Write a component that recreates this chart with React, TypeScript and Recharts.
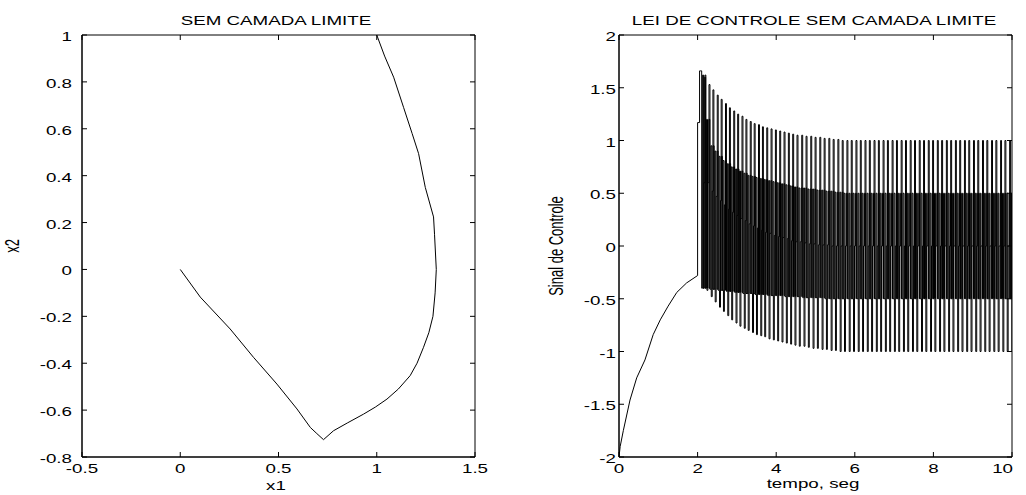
import React from 'react';
import { LineChart, Line, XAxis, YAxis, ReferenceArea } from 'recharts';

// ---------- Left panel: phase plane (x1, x2) ----------
const phaseX1 = [1.0, 1.04, 1.086, 1.137, 1.18, 1.213, 1.247, 1.289, 1.294, 1.303, 1.297, 1.286, 1.265, 1.238, 1.205, 1.17, 1.11, 1.052, 0.993, 0.933, 0.85, 0.78, 0.729, 0.695, 0.662, 0.594, 0.492, 0.373, 0.254, 0.102, 0.0];
const phaseX2 = [1.0, 0.91, 0.82, 0.69, 0.58, 0.494, 0.35, 0.224, 0.15, 0.0, -0.1, -0.2, -0.27, -0.332, -0.4, -0.453, -0.51, -0.553, -0.587, -0.617, -0.655, -0.688, -0.726, -0.7, -0.674, -0.595, -0.489, -0.375, -0.254, -0.118, 0.0];
const phaseXTicks = [-0.5, 0, 0.5, 1, 1.5];
const phaseYTicks = [-0.8, -0.6, -0.4, -0.2, 0, 0.2, 0.4, 0.6, 0.8, 1];

// ---------- Right panel: control signal ----------
const approachTime = [0, 0.03, 0.11, 0.28, 0.45, 0.66, 0.87, 1.05, 1.25, 1.47, 1.72, 2.0, 2.0, 2.05, 2.05];
const approachSignal = [-2.0, -1.9, -1.75, -1.46, -1.25, -1.08, -0.84, -0.7, -0.57, -0.44, -0.35, -0.28, 1.17, 1.17, 1.66];

const transientPulseTime = [2.08, 2.18, 2.29, 2.39, 2.5, 2.6, 2.71, 2.81, 2.92, 3.02, 3.13, 3.23, 3.34, 3.44, 3.55, 3.65, 3.76, 3.87, 3.98, 4.09, 4.2, 4.31, 4.42, 4.53, 4.65, 4.76, 4.88, 4.99, 5.11, 5.22, 5.34, 5.45, 5.57];
const transientUpper = [1.66, 1.6, 1.53, 1.48, 1.43, 1.39, 1.35, 1.31, 1.28, 1.25, 1.23, 1.2, 1.18, 1.16, 1.15, 1.13, 1.12, 1.11, 1.1, 1.09, 1.08, 1.07, 1.06, 1.05, 1.05, 1.04, 1.04, 1.03, 1.03, 1.02, 1.02, 1.01, 1.01];
const transientMidUpper = [1.62, 1.2, 0.95, 0.9, 0.85, 0.81, 0.78, 0.75, 0.73, 0.71, 0.69, 0.67, 0.66, 0.65, 0.64, 0.63, 0.62, 0.61, 0.6, 0.59, 0.58, 0.57, 0.56, 0.55, 0.55, 0.54, 0.54, 0.53, 0.53, 0.52, 0.52, 0.51, 0.51];
const transientMid = [0.6, 0.6, 0.52, 0.47, 0.43, 0.39, 0.35, 0.32, 0.29, 0.26, 0.24, 0.21, 0.19, 0.17, 0.15, 0.13, 0.12, 0.1, 0.09, 0.08, 0.07, 0.05, 0.04, 0.04, 0.03, 0.02, 0.02, 0.01, 0.01, 0.01, 0.0, 0.0, 0.0];
const transientMidLower = [-0.4, -0.4, -0.41, -0.41, -0.42, -0.42, -0.43, -0.43, -0.44, -0.44, -0.45, -0.45, -0.45, -0.46, -0.46, -0.46, -0.47, -0.47, -0.47, -0.47, -0.48, -0.48, -0.48, -0.48, -0.49, -0.49, -0.49, -0.49, -0.49, -0.5, -0.5, -0.5, -0.5];
const transientLower = [-0.4, -0.42, -0.48, -0.53, -0.58, -0.62, -0.66, -0.7, -0.73, -0.76, -0.78, -0.8, -0.82, -0.84, -0.85, -0.86, -0.88, -0.89, -0.9, -0.91, -0.92, -0.93, -0.94, -0.95, -0.95, -0.96, -0.97, -0.97, -0.98, -0.98, -0.99, -0.99, -1.0];

const steadyPulseTime = [5.68, 5.8, 5.91, 6.03, 6.14, 6.26, 6.37, 6.49, 6.6, 6.72, 6.83, 6.95, 7.06, 7.18, 7.29, 7.41, 7.52, 7.64, 7.75, 7.87, 7.98, 8.1, 8.21, 8.33, 8.44, 8.56, 8.67, 8.79, 8.9, 9.02, 9.13, 9.25, 9.36, 9.48, 9.59, 9.71, 9.82, 9.94];
const steadyLevels = [1, 0.5, 0, -0.5, -1]; // upper, mid-upper, middle, mid-lower, lower

const switchStep = 0.024; // time between consecutive switches inside a burst
const halfCycle = 0.058; // time from the upper burst to the lower burst

const timeTicks = [0, 2, 4, 6, 8, 10];
const signalTicks = [-2, -1.5, -1, -0.5, 0, 0.5, 1, 1.5, 2];

// ---------- build data ----------
const phaseData = phaseX1.map((x1, i) => ({ x1, x2: phaseX2[i] }));

type Pt = { t: number; v: number };
const signalData: Pt[] = approachTime.map((t, i) => ({ t, v: approachSignal[i] }));
let prevLevel = approachSignal[approachSignal.length - 1];
const pushLevel = (t: number, v: number) => {
  signalData.push({ t, v: prevLevel }, { t, v });
  prevLevel = v;
};
const addCycle = (t: number, u: number, mu: number, m: number, ml: number, l: number) => {
  const d = switchStep;
  pushLevel(t, u);
  pushLevel(t + d, ml);
  pushLevel(t + 2 * d, mu);
  pushLevel(t + 3 * d, ml);
  const h = t + halfCycle;
  pushLevel(h, l);
  pushLevel(h + d, m);
  pushLevel(h + 2 * d, mu);
  pushLevel(h + 3 * d, ml);
};
transientPulseTime.forEach((t, i) =>
  addCycle(t, transientUpper[i], transientMidUpper[i], transientMid[i], transientMidLower[i], transientLower[i])
);
steadyPulseTime.forEach((t) =>
  addCycle(t, steadyLevels[0], steadyLevels[1], steadyLevels[2], steadyLevels[3], steadyLevels[4])
);
signalData.push({ t: 10, v: prevLevel });

// ---------- styling helpers ----------
const FONT = "'Liberation Sans', Arial, Helvetica, sans-serif";
const FS = 12.5;
const SX = 1.5;
const TICK = 5;
const TOP = 35;
const BOTTOM = 457;
const H = 495;

const fmt = (v: number) => String(Math.round(v * 100) / 100);

function StretchText({ x, y, anchor, rotate, size, children }: any) {
  const tr = `translate(${x},${y}) scale(${SX},1)` + (rotate ? ' rotate(-90)' : '');
  return (
    <text transform={tr} textAnchor={anchor} fontFamily={FONT} fontSize={size || FS} fill="#000">
      {children}
    </text>
  );
}

const makeXTick = (endValue: number | null) => (props: any) => {
  const { x, payload } = props;
  const v = payload.value;
  const isEnd = endValue !== null && v === endValue;
  return (
    <g>
      <line x1={x} x2={x} y1={BOTTOM} y2={BOTTOM - TICK} stroke="#000" />
      <line x1={x} x2={x} y1={TOP} y2={TOP + TICK} stroke="#000" />
      <StretchText x={isEnd ? x + 1 : x} y={BOTTOM + 16} anchor={isEnd ? 'end' : 'middle'}>
        {fmt(v)}
      </StretchText>
    </g>
  );
};

const makeYTick = (left: number, right: number, labelX: number) => (props: any) => {
  const { y, payload } = props;
  return (
    <g>
      <line x1={left} x2={left + TICK} y1={y} y2={y} stroke="#000" />
      <line x1={right} x2={right - TICK} y1={y} y2={y} stroke="#000" />
      <StretchText x={labelX} y={y + 6} anchor="end">
        {fmt(payload.value)}
      </StretchText>
    </g>
  );
};

// Left chart geometry (svg at page x=0)
const L_W = 510;
const L_LEFT = 82;
const L_RIGHT = 475;
// Right chart geometry (svg at page x=510)
const R_OFF = 510;
const R_W = 516;
const R_LEFT = 619 - R_OFF;
const R_RIGHT = 1012 - R_OFF;

export default function App() {
  return (
    <div style={{ position: 'absolute', left: 0, top: 0, width: 1026, height: H, background: '#fff' }}>
      <div style={{ position: 'absolute', left: 0, top: 0 }}>
        <LineChart
          width={L_W}
          height={H}
          data={phaseData}
          margin={{ top: TOP, right: L_W - L_RIGHT, left: 0, bottom: 0 }}
        >
          <XAxis
            type="number"
            dataKey="x1"
            domain={[-0.5, 1.5]}
            ticks={phaseXTicks}
            allowDataOverflow
            height={H - BOTTOM}
            interval={0}
            tickLine={false}
            tickSize={0}
            tickMargin={0}
            axisLine={{ stroke: '#000' }}
            tick={makeXTick(null)}
          />
          <YAxis
            type="number"
            domain={[-0.8, 1]}
            ticks={phaseYTicks}
            allowDataOverflow
            width={L_LEFT}
            interval={0}
            tickLine={false}
            tickSize={0}
            tickMargin={0}
            axisLine={{ stroke: '#000' }}
            tick={makeYTick(L_LEFT, L_RIGHT, 72)}
          />
          <ReferenceArea x1={-0.5} x2={1.5} y1={-0.8} y2={1} fill="none" stroke="#000" strokeWidth={1} />
          <Line
            type="linear"
            dataKey="x2"
            stroke="#000"
            strokeWidth={1}
            dot={false}
            activeDot={false}
            isAnimationActive={false}
          />
        </LineChart>
      </div>
      <div style={{ position: 'absolute', left: R_OFF, top: 0 }}>
        <LineChart
          width={R_W}
          height={H}
          data={signalData}
          margin={{ top: TOP, right: R_W - R_RIGHT, left: 0, bottom: 0 }}
        >
          <XAxis
            type="number"
            dataKey="t"
            domain={[0, 10]}
            ticks={timeTicks}
            allowDataOverflow
            height={H - BOTTOM}
            interval={0}
            tickLine={false}
            tickSize={0}
            tickMargin={0}
            axisLine={{ stroke: '#000' }}
            tick={makeXTick(10)}
          />
          <YAxis
            type="number"
            domain={[-2, 2]}
            ticks={signalTicks}
            allowDataOverflow
            width={R_LEFT}
            interval={0}
            tickLine={false}
            tickSize={0}
            tickMargin={0}
            axisLine={{ stroke: '#000' }}
            tick={makeYTick(R_LEFT, R_RIGHT, R_LEFT - 3)}
          />
          <ReferenceArea x1={0} x2={10} y1={-2} y2={2} fill="none" stroke="#000" strokeWidth={1} />
          <Line
            type="linear"
            dataKey="v"
            stroke="#000"
            strokeWidth={1}
            dot={false}
            activeDot={false}
            isAnimationActive={false}
          />
        </LineChart>
      </div>
      <svg
        width={1026}
        height={H}
        style={{ position: 'absolute', left: 0, top: 0, pointerEvents: 'none' }}
      >
        <StretchText x={276} y={25} anchor="middle">SEM CAMADA LIMITE</StretchText>
        <StretchText x={814} y={25} anchor="middle">LEI DE CONTROLE SEM CAMADA LIMITE</StretchText>
        <StretchText x={276} y={490} anchor="middle">x1</StretchText>
        <StretchText x={813} y={488} anchor="middle">tempo, seg</StretchText>
        <StretchText x={19} y={246} anchor="middle" rotate size={13}>x2</StretchText>
        <StretchText x={563} y={246} anchor="middle" rotate size={13}>Sinal de Controle</StretchText>
      </svg>
    </div>
  );
}
